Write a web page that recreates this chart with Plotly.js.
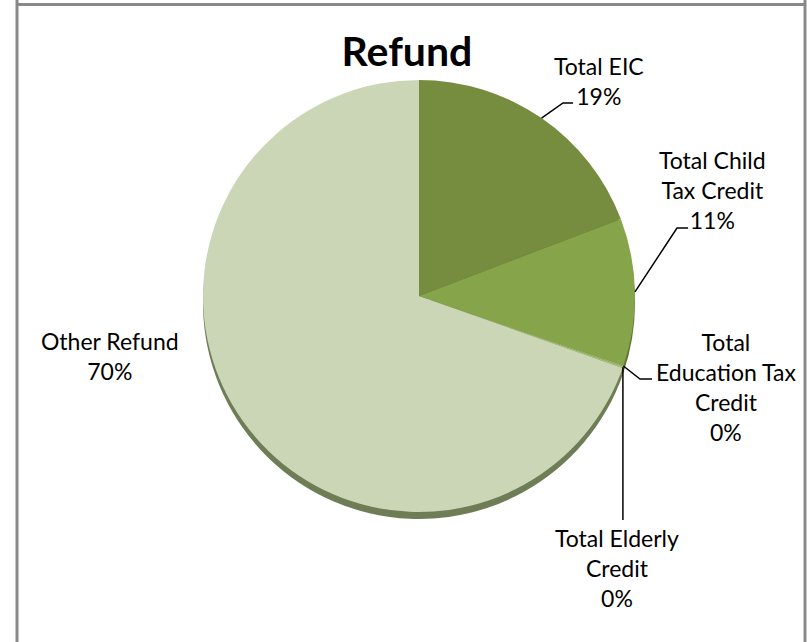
<!DOCTYPE html>
<html>
<head>
<meta charset="utf-8">
<script src="https://cdn.plot.ly/plotly-3.0.1.min.js"></script>
<style>html,body{margin:0;padding:0;background:#fff;}#chart{width:807px;height:642px;}</style>
</head>
<body>
<div id="chart"></div>
<script>
// ---- data ----
const categories = ['Total EIC', 'Total Child Tax Credit', 'Total Education Tax Credit', 'Total Elderly Credit', 'Other Refund'];
const wrappedLabels = ['Total EIC', 'Total Child<br>Tax Credit', 'Total<br>Education Tax<br>Credit', 'Total Elderly<br>Credit', 'Other Refund'];
const values = [19.2, 11.0, 0.1, 0.1, 69.6];
const titleText = 'Refund';

// ---- styling / layout ----
const W = 807, H = 642;
const faceColors = ['#768C3E', '#86A44A', '#9BB564', '#A9C07A', '#CAD6B6'];
const sideColors = ['#4F6128', '#5E7631', '#6E8140', '#6E8140', '#6E7D55'];
const cx = 419, cy = 296, R = 216, depth = 7;
const px = x => x / W;
const py = y => 1 - y / H;

// label block centres and leader elbows (layout only); null x = same x as leader start
const labelPos = [
  {x: 599, y: 81,  elbow: [[563, 103], [573, 103]]},
  {x: 712, y: 190, elbow: [[677, 228], [688, 228]]},
  {x: 726, y: 387, elbow: [[640, 379], [652, 379]]},
  {x: 617, y: 568, elbow: [[null, 520]]},
  {x: 110, y: 356, elbow: null}
];

const total = values.reduce((a, b) => a + b, 0);
const pct = values.map(v => Math.round(v / total * 100) + '%');

// slice mid angles (clockwise from 12 o'clock)
let acc = 0;
const mids = values.map(v => { const m = (acc + v / 2) / total * 360; acc += v; return m; });

const annotations = [];
const shapes = [];
categories.forEach((c, i) => {
  annotations.push({
    xref: 'paper', yref: 'paper', x: px(labelPos[i].x), y: py(labelPos[i].y),
    xanchor: 'center', yanchor: 'middle', align: 'center', showarrow: false,
    text: wrappedLabels[i] + '<br>' + pct[i],
    font: {family: 'Lato, "Open Sans", sans-serif', size: 23, color: '#000'}
  });
  if (labelPos[i].elbow) {
    const th = mids[i] * Math.PI / 180;
    const sx = cx + R * Math.sin(th), sy = cy - R * Math.cos(th);
    let d = 'M ' + px(sx) + ' ' + py(sy);
    labelPos[i].elbow.forEach(p => { d += ' L ' + px(p[0] === null ? sx : p[0]) + ' ' + py(p[1]); });
    shapes.push({type: 'path', xref: 'paper', yref: 'paper', path: d, line: {color: '#000', width: 1.5}});
  }
});

// frame
shapes.push({type: 'line', xref: 'paper', yref: 'paper', x0: px(17), x1: px(806), y0: py(4.5), y1: py(4.5), line: {color: '#898989', width: 3}});
shapes.push({type: 'line', xref: 'paper', yref: 'paper', x0: px(17), x1: px(17), y0: py(0), y1: py(H), line: {color: '#898989', width: 3}});
shapes.push({type: 'line', xref: 'paper', yref: 'paper', x0: px(805), x1: px(805), y0: py(0), y1: py(H), line: {color: '#898989', width: 3}});

const dom = (oy) => ({x: [px(cx - R), px(cx + R)], y: [py(cy + oy + R), py(cy + oy - R)]});

const traces = [
  {type: 'pie', labels: categories, values: values, sort: false, direction: 'clockwise', rotation: 0,
   marker: {colors: sideColors, line: {width: 0}}, textinfo: 'none', hoverinfo: 'skip', showlegend: false,
   domain: dom(depth)},
  {type: 'pie', labels: categories, values: values, sort: false, direction: 'clockwise', rotation: 0,
   marker: {colors: faceColors, line: {width: 0}}, textinfo: 'none', hoverinfo: 'skip', showlegend: false,
   domain: dom(0)}
];

const layout = {
  width: W, height: H,
  margin: {l: 0, r: 0, t: 0, b: 0},
  paper_bgcolor: '#fff', plot_bgcolor: '#fff',
  title: {text: '<b>' + titleText + '</b>', x: px(407), xanchor: 'center', y: py(52), yanchor: 'middle', xref: 'paper', yref: 'paper',
          font: {family: 'Lato, "Open Sans", sans-serif', size: 41, color: '#000'}},
  annotations: annotations,
  shapes: shapes,
  showlegend: false
};

Plotly.newPlot('chart', traces, layout, {displayModeBar: false, staticPlot: true});
</script>
</body>
</html>
